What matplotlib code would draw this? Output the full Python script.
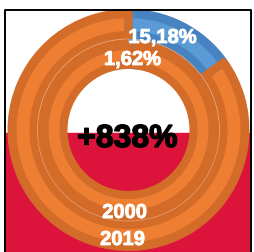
import matplotlib.pyplot as plt
import matplotlib.patheffects as pe
from matplotlib.patches import Rectangle, Circle

# Data: share per year (inner ring = 2000, outer ring = 2019)
years = ['2000', '2019']
shares = [1.62, 15.18]
growth_label = '+838%'

# colours
blue_dark, blue_light = '#4683C0', '#5B9BD5'
orange_dark, orange_light = '#D26C28', '#EE7E31'
red = '#DC143C'

fig = plt.figure(figsize=(2.55, 2.52), dpi=100)
ax = fig.add_axes([0, 0, 1, 1])

cx, cy = 128.5, 122
# ring geometry (pixels): (outer radius, width, light band outer, light band width)
rings = [(91, 29, 84, 19), (121, 30, 116, 21)]
inset = 4  # half of dark frame around each wedge, px
lw = 2 * inset * 0.72

# red background in the lower half, black frame
ax.add_patch(Rectangle((6, 0), 244, 119, color=red, zorder=0))
ax.plot([5.5, 5.5, 251, 251], [-5, 242, 242, -5], color='black', lw=1.4, zorder=5)

for (r, w, lr, lwid), share in zip(rings, shares):
    vals = [share, 100 - share]
    ax.pie(vals, radius=r, center=(cx, cy), startangle=90, counterclock=False,
           colors=[blue_dark, orange_dark], wedgeprops=dict(width=w, linewidth=0))
    ax.pie(vals, radius=lr, center=(cx, cy), startangle=90, counterclock=False,
           colors=[blue_light, orange_light],
           wedgeprops=dict(width=lwid, linewidth=0))
    # dark frame inside each wedge
    wedges, _ = ax.pie(vals, radius=lr, center=(cx, cy), startangle=90, counterclock=False,
                       colors=['none', 'none'],
                       wedgeprops=dict(width=lwid, linewidth=lw))
    for wd, ec in zip(wedges, [blue_dark, orange_dark]):
        wd.set_edgecolor(ec)
        wd.set_joinstyle('miter')

# thin separator between rings
ax.add_patch(Circle((cx, cy), 91, fill=False, ec='#F6C09A', lw=0.5, alpha=0.7, zorder=3))

font = 'Liberation Sans'
heavy_k = [pe.withStroke(linewidth=1.0, foreground='black')]
heavy_w = [pe.withStroke(linewidth=0.6, foreground='white')]
ax.text(127.5, 105, growth_label, ha='center', va='baseline', fontsize=23,
        fontweight='bold', family=font, color='black', zorder=6, path_effects=heavy_k)
ax.text(162.5, 209, f'{shares[1]:.2f}%'.replace('.', ','), ha='center', va='baseline',
        fontsize=14.5, fontweight='bold', family=font, color='white', zorder=6,
        path_effects=heavy_w)
ax.text(132.5, 187, f'{shares[0]:.2f}%'.replace('.', ','), ha='center', va='baseline',
        fontsize=14.5, fontweight='bold', family=font, color='white', zorder=6,
        path_effects=heavy_w)
ax.text(124.5, 34, years[0], ha='center', va='baseline', fontsize=14.5,
        fontweight='bold', family=font, color='white', zorder=6, path_effects=heavy_w)
ax.text(122.5, 7, years[1], ha='center', va='baseline', fontsize=14.5,
        fontweight='bold', family=font, color='white', zorder=6, path_effects=heavy_w)

ax.set_xlim(0, 255)
ax.set_ylim(0, 252)
ax.set_aspect('equal')
ax.axis('off')

plt.savefig('out.png', dpi=100)
